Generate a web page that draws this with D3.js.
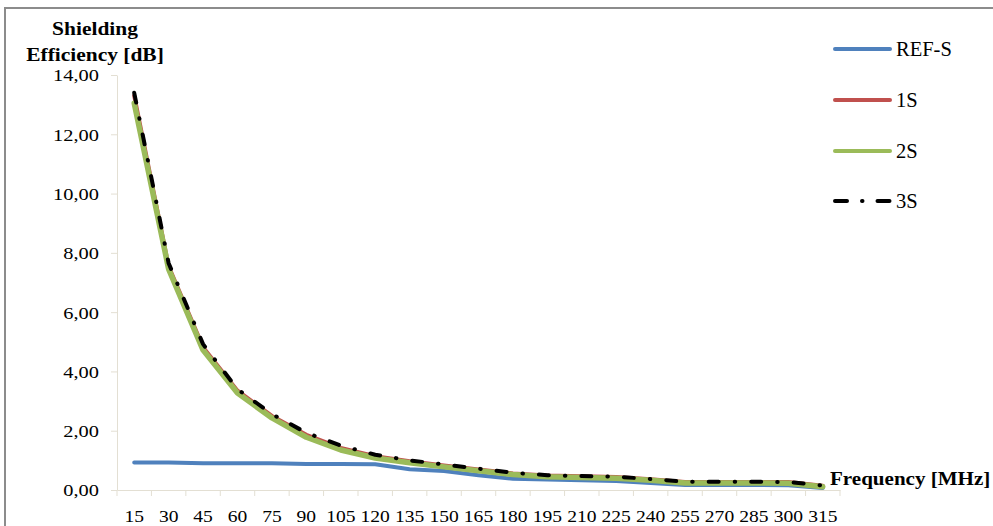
<!DOCTYPE html>
<meta charset="utf-8">
<script src="https://d3js.org/d3.v7.min.js"></script>
<style>
    body { margin: 0; background: #fff; }
    text { font-family: 'Liberation Serif', 'Times New Roman', serif; fill: #000; }
    .axis path, .axis line { stroke: #e3dfd3; }
    .series { fill: none; stroke-linejoin: round; }
</style>
<div id="chart"></div>
<script>
    // frequency categories (MHz)
    const freqs = [15, 30, 45, 60, 75, 90, 105, 120, 135, 150, 165, 180, 195, 210, 225, 240, 255, 270, 285, 300, 315];
    const yTicks = [0, 2, 4, 6, 8, 10, 12, 14];

    // shielding efficiency [dB]
    const refS = [0.93, 0.93, 0.90, 0.90, 0.90, 0.88, 0.88, 0.87, 0.70, 0.64, 0.50, 0.38, 0.35, 0.33, 0.30, 0.24, 0.17, 0.17, 0.17, 0.16, 0.07];
    const s1 = [13.30, 7.55, 4.82, 3.35, 2.50, 1.86, 1.42, 1.14, 0.97, 0.83, 0.69, 0.56, 0.49, 0.46, 0.44, 0.36, 0.27, 0.27, 0.27, 0.27, 0.14];
    const s2 = [13.05, 7.45, 4.72, 3.27, 2.43, 1.78, 1.35, 1.08, 0.92, 0.78, 0.65, 0.52, 0.45, 0.42, 0.40, 0.33, 0.24, 0.24, 0.24, 0.23, 0.11];
    const s3 = [13.40, 7.65, 4.92, 3.40, 2.56, 1.93, 1.50, 1.19, 1.00, 0.86, 0.72, 0.58, 0.50, 0.47, 0.45, 0.37, 0.28, 0.28, 0.28, 0.27, 0.15];

    const seriesNames = ["REF-S", "1S", "2S", "3S"];
    const seriesValues = [refS, s1, s2, s3];
    const seriesColors = ["#4f81bd", "#c0504d", "#9bbb59", "#000000"];
    const seriesWidths = [4, 4, 5.5, 4];
    const seriesDash = [null, null, null, "10,16,0.5,16"];

    let width = 993, height = 526;
    let plot = {left: 117, right: 840, top: 75, bottom: 490};

    let svg = d3.select("#chart")
        .append("svg")
        .attr("width", width)
        .attr("height", height);

    // outer frame
    svg.append("rect")
        .attr("x", 5).attr("y", 8)
        .attr("width", width + 10).attr("height", height + 10)
        .attr("fill", "none")
        .attr("stroke", "#8c8c8c")
        .attr("stroke-width", 2);

    let x = d3.scaleBand()
        .domain(freqs)
        .range([plot.left, plot.right])
        .padding(0);

    let y = d3.scaleLinear()
        .domain([0, 14])
        .range([plot.bottom, plot.top]);

    // y axis
    let yAxis = svg.append("g")
        .attr("class", "axis")
        .attr("transform", "translate(" + plot.left + ",0)")
        .call(d3.axisLeft(y)
            .tickValues(yTicks)
            .tickSize(6)
            .tickSizeOuter(0)
            .tickPadding(9)
            .tickFormat(d => d3.format(".2f")(d).replace(".", ",")));
    yAxis.selectAll("text")
        .attr("font-size", 17)
        .attr("transform", "scale(1.2,1)")
        .attr("dy", "0.35em");

    // x axis: labels centred in bands, ticks on band edges
    let xAxis = svg.append("g")
        .attr("class", "axis")
        .attr("transform", "translate(0," + plot.bottom + ")")
        .call(d3.axisBottom(x).tickSize(0).tickPadding(20).tickSizeOuter(0));
    xAxis.selectAll("text")
        .attr("font-size", 17)
        .attr("transform", "scale(1.15,1)");
    xAxis.selectAll(".edge")
        .data(d3.range(freqs.length + 1))
        .enter()
        .append("line")
        .attr("class", "edge")
        .attr("x1", i => plot.left + i * x.step())
        .attr("x2", i => plot.left + i * x.step())
        .attr("y1", 0)
        .attr("y2", 6)
        .attr("stroke", "#e3dfd3");

    // lines
    let line = d3.line()
        .x((d, i) => x(freqs[i]) + x.bandwidth() / 2)
        .y(d => y(d));

    for (let k = 0; k < seriesValues.length; k++) {
        svg.append("path")
            .datum(seriesValues[k])
            .attr("class", "series")
            .attr("d", line)
            .attr("stroke", seriesColors[k])
            .attr("stroke-width", seriesWidths[k])
            .attr("stroke-dasharray", seriesDash[k])
            .attr("stroke-linecap", "round");
    }

    // legend
    let legendY = [49, 100, 151, 201];
    for (let k = 0; k < seriesNames.length; k++) {
        svg.append("line")
            .attr("x1", 835).attr("x2", 890)
            .attr("y1", legendY[k]).attr("y2", legendY[k])
            .attr("stroke", seriesColors[k])
            .attr("stroke-width", 4)
            .attr("stroke-linecap", "round")
            .attr("stroke-dasharray", k === 3 ? "12,15,0.5,15" : null);
        svg.append("text")
            .attr("x", 896)
            .attr("y", legendY[k] + 7)
            .attr("font-size", 20.5)
            .text(seriesNames[k]);
    }

    // axis titles
    let titleLines = ["Shielding", "Efficiency [dB]"];
    svg.selectAll(".ytitle")
        .data(titleLines)
        .enter()
        .append("text")
        .attr("class", "ytitle")
        .attr("transform", (d, i) => "translate(95," + (35 + i * 26) + ") scale(1.1,1)")
        .attr("text-anchor", "middle")
        .attr("font-size", 19.5)
        .attr("font-weight", "bold")
        .text(d => d);

    svg.append("text")
        .attr("transform", "translate(830,485) scale(1.08,1)")
        .attr("font-size", 19.5)
        .attr("font-weight", "bold")
        .text("Frequency [MHz]");
</script>
